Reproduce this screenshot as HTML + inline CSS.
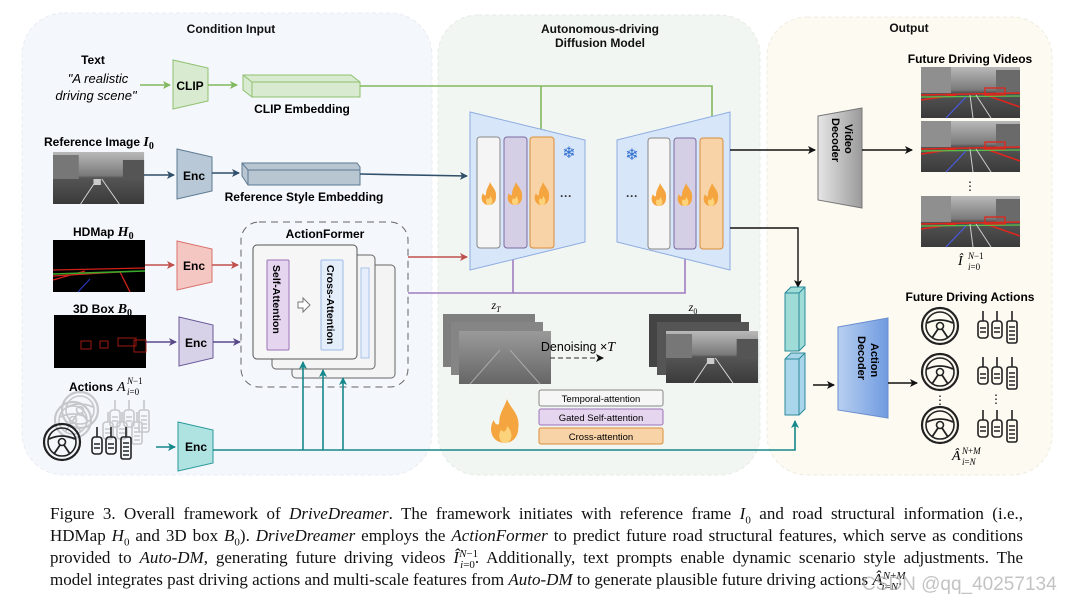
<!DOCTYPE html>
<html><head><meta charset="utf-8"><style>
body{margin:0;background:#fff;width:1067px;height:605px;overflow:hidden;position:relative}
svg{position:absolute;left:0;top:0}
.cap{position:absolute;left:50px;width:973px;font-family:"Liberation Serif",serif;font-size:17px;color:#111;line-height:22px;white-space:nowrap}
.cap div{text-align:justify;text-align-last:justify;height:22px}
.wm{position:absolute;left:862px;top:574px;font-family:"Liberation Sans",sans-serif;font-size:19px;color:rgba(170,170,170,0.7)}
</style></head><body>
<svg width="1067" height="605" viewBox="0 0 1067 605" font-family="Liberation Sans, sans-serif">
<defs>
<marker id="ag" markerWidth="8" markerHeight="8" refX="7" refY="4" orient="auto" markerUnits="userSpaceOnUse"><path d="M0,0 L8,4 L0,8 L2,4z" fill="#82b85e"/></marker>
<marker id="ab" markerWidth="8" markerHeight="8" refX="7" refY="4" orient="auto" markerUnits="userSpaceOnUse"><path d="M0,0 L8,4 L0,8 L2,4z" fill="#2f4f6a"/></marker>
<marker id="ar" markerWidth="8" markerHeight="8" refX="7" refY="4" orient="auto" markerUnits="userSpaceOnUse"><path d="M0,0 L8,4 L0,8 L2,4z" fill="#c0504d"/></marker>
<marker id="ap" markerWidth="8" markerHeight="8" refX="7" refY="4" orient="auto" markerUnits="userSpaceOnUse"><path d="M0,0 L8,4 L0,8 L2,4z" fill="#8a6bb0"/></marker>
<marker id="at" markerWidth="8" markerHeight="8" refX="7" refY="4" orient="auto" markerUnits="userSpaceOnUse"><path d="M0,0 L8,4 L0,8 L2,4z" fill="#16878a"/></marker>
<marker id="ak" markerWidth="8" markerHeight="8" refX="7" refY="4" orient="auto" markerUnits="userSpaceOnUse"><path d="M0,0 L8,4 L0,8 L2,4z" fill="#111"/></marker>
<marker id="apu" markerWidth="8" markerHeight="8" refX="7" refY="4" orient="auto" markerUnits="userSpaceOnUse"><path d="M0,0 L8,4 L0,8 L2,4z" fill="#5a4a8a"/></marker>
<linearGradient id="gv" x1="0" x2="1"><stop offset="0" stop-color="#e6e6e6"/><stop offset="1" stop-color="#9a9a9a"/></linearGradient>
<linearGradient id="gb" x1="0" x2="1"><stop offset="0" stop-color="#b8cff0"/><stop offset="1" stop-color="#6f9be0"/></linearGradient>
<linearGradient id="road" x1="0" y1="0" x2="0" y2="1"><stop offset="0" stop-color="#b9b9b9"/><stop offset="0.45" stop-color="#7a7a7a"/><stop offset="0.5" stop-color="#555"/><stop offset="1" stop-color="#3a3a3a"/></linearGradient>
<linearGradient id="noise" x1="0" y1="0" x2="0" y2="1"><stop offset="0" stop-color="#9a9a9a"/><stop offset="1" stop-color="#666"/></linearGradient>
<g id="flame"><path d="M0,12 C-7,12 -9,5 -6,0 C-5,3 -3,3 -3,1 C-3,-4 0,-7 1,-11 C3,-6 8,-3 7,4 C7,9 4,12 0,12z" fill="#f5a540"/><path d="M0,12 C-3,12 -4,8 -2,5 C-1,7 1,6 1,3 C3,5 4,8 3,10 C2,12 1,12 0,12z" fill="#fcd27a"/></g>
<g id="wheel" fill="none" stroke="#222"><circle r="18" stroke-width="2.2"/><circle r="14" stroke-width="1.6"/><circle r="3.5" stroke-width="1.6"/><path d="M-13,-3 Q0,-9 13,-3 M-2,3 L-8,12 M2,3 L8,12" stroke-width="1.8"/></g>
<g id="pedals" fill="none" stroke="#222" stroke-width="1.6"><path d="M5,0 V10 M19,0 V10 M34,0 V10"/><rect x="0" y="10" width="10" height="17" rx="3"/><rect x="14" y="10" width="10" height="17" rx="3"/><rect x="29" y="10" width="10" height="22" rx="2"/><path d="M2,17 H8 M2,21 H8 M16,17 H22 M16,21 H22 M31,16 H37 M31,20 H37 M31,24 H37 M31,28 H37"/></g>
<g id="video"><rect width="99" height="51" fill="url(#road)"/><rect x="0" y="0" width="30" height="26" fill="#8f8f8f"/><rect x="75" y="3" width="24" height="24" fill="#6a6a6a"/><path d="M0,28 L99,26 M0,33 L35,28 M99,40 L62,27" stroke="#e0261c" stroke-width="1.5" fill="none"/><path d="M0,30 L99,29" stroke="#5ac04a" stroke-width="1.3"/><path d="M25,51 L45,30" stroke="#4a5ae0" stroke-width="1.2"/><rect x="64" y="21" width="20" height="7" fill="none" stroke="#e0261c" stroke-width="1.3"/><path d="M52,51 L49,28 M70,51 L55,28" stroke="#ccc" stroke-width="1"/></g>
<g id="photo"><rect width="99" height="52" fill="url(#road)"/><rect x="0" y="3" width="28" height="24" fill="#777"/><rect x="76" y="8" width="23" height="20" fill="#555"/><path d="M30,52 L48,27 M72,52 L53,27" stroke="#ddd" stroke-width="1"/><rect x="44" y="27" width="8" height="6" fill="#ccc"/></g>
</defs>

<rect x="22" y="13" width="410" height="462" rx="42" fill="#f4f7fc" stroke="#e8ecf2" stroke-dasharray="4 3"/>
<rect x="438" y="15" width="322" height="460" rx="40" fill="#f2f6f2" stroke="#e6ebe6" stroke-dasharray="4 3"/>
<rect x="767" y="17" width="285" height="458" rx="40" fill="#fcfaf1" stroke="#efece0" stroke-dasharray="4 3"/>
<g font-weight="bold" font-size="12" text-anchor="middle" fill="#111">
<text x="231" y="33">Condition Input</text>
<text x="600" y="33">Autonomous-driving</text>
<text x="600" y="47">Diffusion Model</text>
<text x="909" y="32">Output</text>
</g>

<text x="93" y="64" font-size="12" font-weight="bold" text-anchor="middle">Text</text>
<text x="98" y="83" font-size="13" font-style="italic" text-anchor="middle">"A realistic</text>
<text x="96" y="100" font-size="13" font-style="italic" text-anchor="middle">driving scene"</text>
<line x1="140" y1="85" x2="170" y2="85" stroke="#82b85e" stroke-width="1.6" marker-end="url(#ag)"/>
<path d="M173,60 L208,68 L208,101 L173,109z" fill="#d8ead0" stroke="#8fc06e"/>
<text x="190" y="90" font-size="12" font-weight="bold" text-anchor="middle">CLIP</text>
<line x1="208" y1="85" x2="237" y2="85" stroke="#82b85e" stroke-width="1.6" marker-end="url(#ag)"/>
<path d="M243,75 L351,75 L360,82 L360,97 L252,97 L243,90z" fill="#d8ead0" stroke="#8fc06e"/>
<path d="M243,75 L252,82 L360,82 M252,82 V97" fill="none" stroke="#8fc06e"/>
<text x="302" y="113" font-size="12" font-weight="bold" text-anchor="middle">CLIP Embedding</text>
<path d="M360,86 H712 V136" fill="none" stroke="#82b85e" stroke-width="1.6" marker-end="url(#ag)"/>
<path d="M541,86 V136" fill="none" stroke="#82b85e" stroke-width="1.6" marker-end="url(#ag)"/>

<text x="44" y="146" font-size="12" font-weight="bold">Reference Image <tspan font-family="Liberation Serif" font-style="italic" font-size="14">I</tspan><tspan font-family="Liberation Serif" font-size="10" dy="3">0</tspan></text>
<use href="#photo" x="53" y="152" transform="translate(53,152) scale(0.92,1) translate(-53,-152)"/>
<line x1="144" y1="175" x2="174" y2="175" stroke="#2f4f6a" stroke-width="1.6" marker-end="url(#ab)"/>
<path d="M177,149 L212,157 L212,191 L177,199z" fill="#b8c8d6" stroke="#5d7a92"/>
<text x="194" y="180" font-size="12" font-weight="bold" text-anchor="middle">Enc</text>
<line x1="212" y1="173" x2="239" y2="173" stroke="#2f4f6a" stroke-width="1.6" marker-end="url(#ab)"/>
<path d="M242,163 L357,163 L360,167 L360,185 L248,185 L242,176z" fill="#b8c6d2" stroke="#5d7a92"/>
<path d="M242,163 L248,170 L360,170 M248,170 V185" fill="none" stroke="#5d7a92"/>
<text x="304" y="201" font-size="12" font-weight="bold" text-anchor="middle">Reference Style Embedding</text>
<path d="M360,174 L467,176" stroke="#2f4f6a" stroke-width="1.6" marker-end="url(#ab)"/>

<text x="73" y="236" font-size="12" font-weight="bold">HDMap <tspan font-family="Liberation Serif" font-style="italic" font-size="14">H</tspan><tspan font-family="Liberation Serif" font-size="10" dy="3">0</tspan></text>
<rect x="53" y="240" width="92" height="52" fill="#000"/>
<path d="M53,270 L145,268 M53,276 L120,272 L130,292 M53,280 L85,271" stroke="#d0201a" stroke-width="1.3" fill="none"/>
<path d="M53,274 L145,271" stroke="#3aa82a" stroke-width="1.6"/>
<path d="M78,292 L90,279" stroke="#2a3ad0" stroke-width="1"/>
<line x1="145" y1="265" x2="174" y2="265" stroke="#c0504d" stroke-width="1.6" marker-end="url(#ar)"/>
<path d="M177,241 L212,249 L212,282 L177,290z" fill="#f5c7c3" stroke="#d9726a"/>
<text x="194" y="270" font-size="12" font-weight="bold" text-anchor="middle">Enc</text>
<line x1="212" y1="265" x2="238" y2="265" stroke="#c0504d" stroke-width="1.6" marker-end="url(#ar)"/>

<text x="73" y="313" font-size="12" font-weight="bold">3D Box <tspan font-family="Liberation Serif" font-style="italic" font-size="14">B</tspan><tspan font-family="Liberation Serif" font-size="10" dy="3">0</tspan></text>
<rect x="54" y="315" width="92" height="53" fill="#000"/>
<g fill="none" stroke="#b01a14" stroke-width="0.9"><rect x="81" y="341" width="10" height="8"/><rect x="100" y="341" width="8" height="7"/><rect x="118" y="338" width="18" height="8"/><rect x="134" y="340" width="12" height="12"/></g>
<line x1="146" y1="342" x2="176" y2="342" stroke="#5a4a8a" stroke-width="1.6" marker-end="url(#apu)"/>
<path d="M179,317 L213,325 L213,358 L179,366z" fill="#d8d2e8" stroke="#6a5a9a"/>
<text x="196" y="347" font-size="12" font-weight="bold" text-anchor="middle">Enc</text>
<line x1="213" y1="342" x2="240" y2="342" stroke="#5a4a8a" stroke-width="1.6" marker-end="url(#apu)"/>

<rect x="241" y="222" width="167" height="165" rx="18" fill="none" stroke="#666" stroke-dasharray="7 5"/>
<text x="325" y="238" font-size="12" font-weight="bold" text-anchor="middle">ActionFormer</text>
<rect x="292" y="265" width="103" height="113" rx="4" fill="#f4f4f4" stroke="#666"/>
<rect x="272" y="255" width="103" height="114" rx="4" fill="#f4f4f4" stroke="#666"/>
<rect x="361" y="268" width="8" height="90" fill="#e6eefb" stroke="#aac4ea"/>
<rect x="253" y="245" width="104" height="114" rx="4" fill="#f6f6f6" stroke="#555"/>
<rect x="267" y="260" width="22" height="90" rx="1" fill="#e5d5ee" stroke="#9a72b8"/>
<rect x="321" y="260" width="22" height="90" rx="1" fill="#e4edfa" stroke="#9ebbe4"/>
<text transform="translate(273,265) rotate(90)" font-size="10.5" font-weight="bold">Self-Attention</text>
<text transform="translate(327,265) rotate(90)" font-size="10.5" font-weight="bold">Cross-Attention</text>
<path d="M298,302 H303 V298 L310,305 L303,312 V308 H298z" fill="#fff" stroke="#777"/>
<path d="M408,257 H467" stroke="#c0504d" stroke-width="1.6" marker-end="url(#ar)"/>
<path d="M408,293 H685 V252" fill="none" stroke="#a07cc0" stroke-width="1.6" marker-end="url(#ap)"/>
<path d="M513,293 V252" fill="none" stroke="#a07cc0" stroke-width="1.6" marker-end="url(#ap)"/>

<text x="69" y="391" font-size="12" font-weight="bold">Actions</text>
<text x="117" y="391" font-family="Liberation Serif" font-style="italic" font-size="14">A</text>
<text x="127" y="384" font-family="Liberation Serif" font-size="9"><tspan font-style="italic">N</tspan>−1</text>
<text x="127" y="395" font-family="Liberation Serif" font-size="9"><tspan font-style="italic">i</tspan>=0</text>
<g opacity="0.22"><use href="#wheel" x="80" y="410"/><use href="#wheel" x="73" y="420"/><use href="#pedals" x="110" y="400"/><use href="#pedals" x="103" y="412"/></g>
<use href="#wheel" x="62" y="442"/>
<use href="#pedals" x="92" y="427"/>
<line x1="156" y1="447" x2="175" y2="447" stroke="#16878a" stroke-width="1.6" marker-end="url(#at)"/>
<path d="M178,422 L213,430 L213,463 L178,471z" fill="#aee3e2" stroke="#2a9a9a"/>
<text x="196" y="451" font-size="12" font-weight="bold" text-anchor="middle">Enc</text>
<path d="M213,450 H795 V421" fill="none" stroke="#16878a" stroke-width="1.6" marker-end="url(#at)"/>
<g stroke="#16878a" stroke-width="1.6"><path d="M303,450 V362" marker-end="url(#at)"/><path d="M323,450 V370" marker-end="url(#at)"/><path d="M343,450 V378" marker-end="url(#at)"/></g>

<path d="M470,112 L585,140 L585,242 L470,270z" fill="#d8e6fa" stroke="#8cace0"/>
<rect x="477" y="137" width="23" height="111" rx="3" fill="#f5f5f5" stroke="#888"/>
<rect x="504" y="137" width="23" height="111" rx="3" fill="#d5cfe6" stroke="#7a6aa0"/>
<rect x="530" y="137" width="24" height="111" rx="3" fill="#f8d3a8" stroke="#d98c3a"/>
<use href="#flame" x="489" y="193"/><use href="#flame" x="515" y="193"/><use href="#flame" x="542" y="193"/>
<text x="566" y="200" font-size="12" font-weight="bold" text-anchor="middle" fill="#333">···</text>
<text x="569" y="158" font-size="16" text-anchor="middle" fill="#2f6fd0">❄</text>
<path d="M617,140 L730,112 L730,270 L617,242z" fill="#d8e6fa" stroke="#8cace0"/>
<rect x="648" y="138" width="22" height="111" rx="3" fill="#f5f5f5" stroke="#888"/>
<rect x="674" y="138" width="22" height="111" rx="3" fill="#d5cfe6" stroke="#7a6aa0"/>
<rect x="700" y="138" width="23" height="111" rx="3" fill="#f8d3a8" stroke="#d98c3a"/>
<use href="#flame" x="659" y="194"/><use href="#flame" x="685" y="194"/><use href="#flame" x="711" y="194"/>
<text x="632" y="200" font-size="12" font-weight="bold" text-anchor="middle" fill="#333">···</text>
<text x="632" y="160" font-size="16" text-anchor="middle" fill="#2f6fd0">❄</text>

<text x="496" y="309" font-size="12" font-family="Liberation Serif" font-style="italic" text-anchor="middle">z<tspan font-size="8" dy="3">T</tspan></text>
<text x="693" y="311" font-size="12" font-family="Liberation Serif" font-style="italic" text-anchor="middle">z<tspan font-size="8" dy="3" font-style="normal">0</tspan></text>
<rect x="443" y="314" width="92" height="53" fill="#7f7f7f"/>
<rect x="451" y="322" width="92" height="53" fill="#858585"/>
<rect x="459" y="331" width="92" height="53" fill="url(#noise)"/>
<path d="M470,384 L500,350 M540,384 L510,350" stroke="#aaa" stroke-width="1"/>
<text x="578" y="351" font-size="12.5" text-anchor="middle">Denoising ×<tspan font-family="Liberation Serif" font-style="italic" font-size="14">T</tspan></text>
<line x1="550" y1="358" x2="603" y2="358" stroke="#555" stroke-dasharray="5 3" stroke-width="1.2" marker-end="url(#ak)"/>
<rect x="649" y="314" width="92" height="53" fill="#444"/>
<rect x="657" y="322" width="92" height="53" fill="#555"/>
<use href="#photo" x="666" y="331" transform="translate(666,331) scale(0.93,1) translate(-666,-331)"/>

<g transform="translate(505,420) scale(1.9)"><use href="#flame"/></g>
<rect x="539" y="390" width="124" height="16" rx="2" fill="#f6f6f6" stroke="#888"/>
<rect x="539" y="409" width="124" height="16" rx="2" fill="#e5d5ee" stroke="#9a72b8"/>
<rect x="539" y="428" width="124" height="16" rx="2" fill="#f8d3a8" stroke="#d98c3a"/>
<g font-size="9.5" text-anchor="middle"><text x="601" y="402">Temporal-attention</text><text x="601" y="421">Gated Self-attention</text><text x="601" y="440">Cross-attention</text></g>

<line x1="730" y1="150" x2="815" y2="150" stroke="#111" stroke-width="1.4" marker-end="url(#ak)"/>
<path d="M818,116 L862,108 L862,208 L818,200z" fill="url(#gv)" stroke="#777"/>
<text transform="translate(845,124) rotate(90)" font-size="11" font-weight="bold">Video</text>
<text transform="translate(832,118) rotate(90)" font-size="11" font-weight="bold">Decoder</text>
<line x1="862" y1="150" x2="912" y2="150" stroke="#111" stroke-width="1.4" marker-end="url(#ak)"/>
<text x="970" y="63" font-size="12" font-weight="bold" text-anchor="middle">Future Driving Videos</text>
<use href="#video" x="921" y="67"/><use href="#video" x="921" y="121"/><use href="#video" x="921" y="196"/>
<text x="970" y="190" font-size="12" text-anchor="middle">⋮</text>
<text x="958" y="265" font-family="Liberation Serif" font-style="italic" font-size="14">Î</text>
<text x="968" y="259" font-family="Liberation Serif" font-size="9"><tspan font-style="italic">N</tspan>−1</text>
<text x="968" y="270" font-family="Liberation Serif" font-size="9"><tspan font-style="italic">i</tspan>=0</text>

<path d="M730,228 H798 V287" fill="none" stroke="#111" stroke-width="1.4" marker-end="url(#ak)"/>
<path d="M785,293 L791,287 L805,287 L805,345 L799,351 L785,351z" fill="#9fdcd8" stroke="#2a8a9a"/>
<path d="M785,293 L799,293 L805,287 M799,293 V351" fill="none" stroke="#2a8a9a"/>
<path d="M785,359 L791,353 L805,353 L805,409 L799,415 L785,415z" fill="#a9d6ea" stroke="#2a8a9a"/>
<path d="M785,359 L799,359 L805,353 M799,359 V415" fill="none" stroke="#2a8a9a"/>
<line x1="813" y1="385" x2="834" y2="385" stroke="#111" stroke-width="1.4" marker-end="url(#ak)"/>
<path d="M838,327 L888,318 L888,418 L838,410z" fill="url(#gb)" stroke="#6a8ed0"/>
<text transform="translate(871,343) rotate(90)" font-size="11" font-weight="bold">Action</text>
<text transform="translate(858,336) rotate(90)" font-size="11" font-weight="bold">Decoder</text>
<line x1="888" y1="383" x2="917" y2="383" stroke="#111" stroke-width="1.4" marker-end="url(#ak)"/>
<text x="970" y="301" font-size="12" font-weight="bold" text-anchor="middle">Future Driving Actions</text>
<use href="#wheel" x="940" y="326"/><use href="#wheel" x="940" y="372"/><use href="#wheel" x="940" y="425"/>
<use href="#pedals" x="978" y="311"/><use href="#pedals" x="978" y="357"/><use href="#pedals" x="978" y="410"/>
<text x="940" y="404" font-size="12" text-anchor="middle">⋮</text><text x="996" y="403" font-size="12" text-anchor="middle">⋮</text>
<text x="952" y="460" font-family="Liberation Serif" font-style="italic" font-size="14">Â</text>
<text x="962" y="454" font-family="Liberation Serif" font-size="9"><tspan font-style="italic">N</tspan>+<tspan font-style="italic">M</tspan></text>
<text x="962" y="465" font-family="Liberation Serif" font-size="9"><tspan font-style="italic">i</tspan>=<tspan font-style="italic">N</tspan></text>
</svg>

<div class="cap" style="top:503px">
<div>Figure 3. Overall framework of <i>DriveDreamer</i>. The framework initiates with reference frame <i>I</i><sub style="font-size:11px">0</sub> and road structural information (i.e.,</div>
<div>HDMap <i>H</i><sub style="font-size:11px">0</sub> and 3D box <i>B</i><sub style="font-size:11px">0</sub>). <i>DriveDreamer</i> employs the <i>ActionFormer</i> to predict future road structural features, which serve as conditions</div>
<div>provided to <i>Auto-DM</i>, generating future driving videos <i>Î</i><span style="font-size:11px;position:relative;top:-6px"><i>N</i>−1</span><span style="font-size:11px;position:relative;top:5px;margin-left:-18px"><i>i</i>=0</span>. Additionally, text prompts enable dynamic scenario style adjustments. The</div>
<div style="text-align-last:left">model integrates past driving actions and multi-scale features from <i>Auto-DM</i> to generate plausible future driving actions <i>Â</i><span style="font-size:11px;position:relative;top:-6px"><i>N</i>+<i>M</i></span><span style="font-size:11px;position:relative;top:5px;margin-left:-24px"><i>i</i>=<i>N</i></span>.</div>
</div>
<div class="wm">CSDN @qq_40257134</div>
</body></html>
